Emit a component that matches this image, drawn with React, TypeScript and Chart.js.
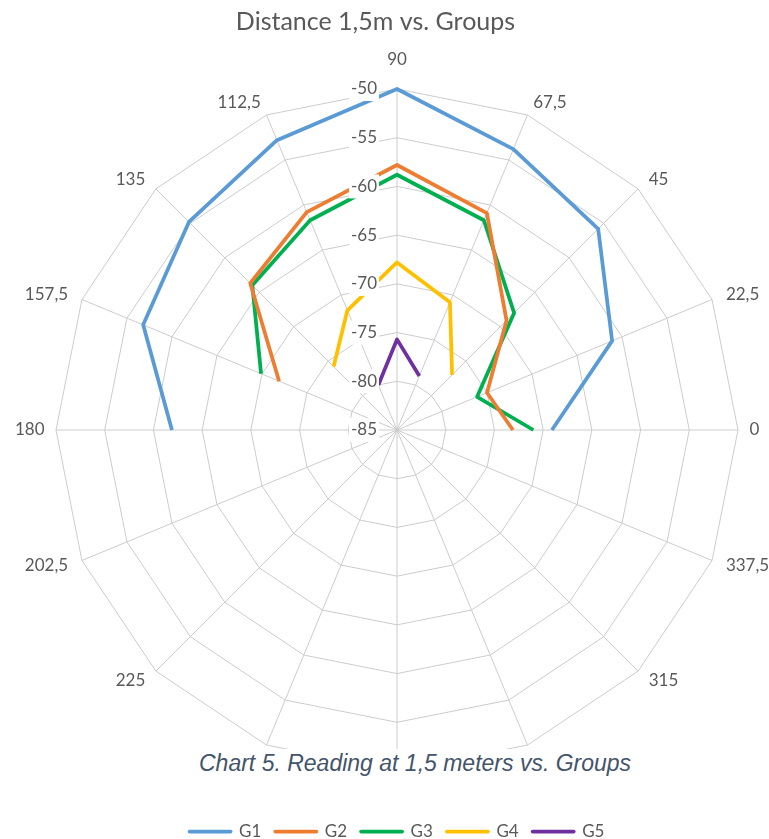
import { useEffect, useRef } from 'react';
import { Chart, registerables } from 'chart.js';

Chart.register(...registerables);

const chartTitle = 'Distance 1,5m vs. Groups';
const captionText = 'Chart 5. Reading at 1,5 meters vs. Groups';

const angleLabels = ['90', '67,5', '45', '22,5', '0', '337,5', '315', '292,5', '270', '247,5', '225', '202,5', '180', '157,5', '135', '112,5'];
const radialTicks = [-85, -80, -75, -70, -65, -60, -55, -50];

const seriesNames = ['G1', 'G2', 'G3', 'G4', 'G5'];
const seriesColors = ['#5B9BD5', '#ED7D31', '#00B050', '#FFC000', '#7030A0'];

const g1 = [-50, -53.8, -55.8, -61.1, -69.1, null, null, null, null, null, null, null, -61.9, -56.8, -54.8, -52.8];
const g2 = [-57.8, -60.9, -69.1, -75.0, -73.1, null, null, null, null, null, null, null, null, -71.9, -63.7, -60.8];
const g3 = [-58.8, -61.7, -68.0, -76.1, -71.0, null, null, null, null, null, null, null, null, -69.9, -64.0, -61.7];
const g4 = [-67.8, -70.8, -77.0, null, null, null, null, null, null, null, null, null, null, null, -75.8, -71.7];
const g5 = [-75.7, -79.0, null, null, null, null, null, null, null, null, null, null, null, null, null, -80.0];

const seriesValues = [g1, g2, g3, g4, g5];

const TEXT_COLOR = '#595959';
const GRID_COLOR = '#cccccc';

const excelLabels = {
  id: 'excelLabels',
  afterLayout(chart: any) {
    const t = chart.titleBlock;
    if (t) t.right = t.right - 43;
  },
  afterDatasetsDraw(chart: any) {
    const s = chart.scales.r;
    const ctx = chart.ctx as CanvasRenderingContext2D;
    ctx.save();
    ctx.font = '17px Lato';
    ctx.textBaseline = 'middle';
    ctx.textAlign = 'right';
    for (const t of s.ticks) {
      const y = s.yCenter - s.getDistanceFromCenterForValue(t.value);
      const x = s.xCenter - 20;
      const text = String(t.value);
      const w = ctx.measureText(text).width;
      ctx.fillStyle = '#ffffff';
      ctx.fillRect(x - w - 2, y - 12, w + 4, 24);
      ctx.fillStyle = TEXT_COLOR;
      ctx.fillText(text, x, y);
    }
    const labels = chart.data.labels as string[];
    ctx.fillStyle = TEXT_COLOR;
    labels.forEach((lab, i) => {
      const th = s.getIndexAngle(i);
      const sn = Math.sin(th);
      const cs = Math.cos(th);
      const v = s.getPointPosition(i, s.drawingArea);
      let x: number;
      let y: number;
      if (Math.abs(sn) < 0.01) {
        ctx.textAlign = 'center';
        x = v.x;
        y = v.y - cs * 29;
      } else if (Math.abs(cs) < 0.01) {
        ctx.textAlign = sn > 0 ? 'left' : 'right';
        x = v.x + sn * 11.5;
        y = v.y;
      } else {
        ctx.textAlign = sn > 0 ? 'left' : 'right';
        x = v.x + sn * 15;
        y = v.y - cs * 13;
      }
      ctx.fillText(lab, x, y);
    });
    ctx.restore();
  },
};

export default function App() {
  const ref = useRef<HTMLCanvasElement | null>(null);

  useEffect(() => {
    if (!ref.current) return;
    Chart.defaults.font.family = 'Lato';
    const chart = new Chart(ref.current, {
      type: 'radar',
      data: {
        labels: angleLabels,
        datasets: seriesNames.map((name, i) => ({
          label: name,
          data: seriesValues[i],
          borderColor: seriesColors[i],
          backgroundColor: seriesColors[i],
          borderWidth: 3.75,
          fill: false,
          pointRadius: 0,
          pointHoverRadius: 0,
          pointStyle: 'line',
          spanGaps: false,
          tension: 0,
          borderJoinStyle: 'round',
          borderCapStyle: 'butt',
        })) as any,
      },
      options: {
        responsive: false,
        animation: false,
        events: [],
        layout: { padding: { left: 56, right: 31, top: 0, bottom: 0 } },
        scales: {
          r: {
            min: -85,
            max: -50,
            startAngle: 0,
            afterBuildTicks: (scale: any) => {
              scale.ticks = radialTicks.map((value) => ({ value }));
            },
            ticks: { display: false },
            grid: { color: GRID_COLOR, lineWidth: 1 },
            angleLines: { color: GRID_COLOR, lineWidth: 1 },
            pointLabels: { display: false },
          } as any,
        },
        plugins: {
          tooltip: { enabled: false },
          title: {
            display: true,
            text: chartTitle,
            color: TEXT_COLOR,
            font: { family: 'Lato', size: 25, weight: 'normal' },
            padding: { top: 7, bottom: 14 },
          },
          legend: {
            position: 'bottom',
            maxHeight: 30,
            labels: {
              usePointStyle: true,
              pointStyleWidth: 41,
              padding: 14,
              color: TEXT_COLOR,
              font: { family: 'Lato', size: 17 },
              generateLabels: (c: any) =>
                Chart.defaults.plugins.legend.labels
                  .generateLabels(c)
                  .map((l: any) => ({ ...l, lineCap: 'round' })),
            },
          },
        },
      } as any,
      plugins: [excelLabels],
    });
    return () => chart.destroy();
  }, []);

  return (
    <div style={{ position: 'absolute', left: 0, top: 0, width: 769, height: 839, background: '#ffffff', overflow: 'hidden' }}>
      <canvas ref={ref} width={769} height={839} style={{ display: 'block' }} />
      <div
        style={{
          position: 'absolute',
          left: 0,
          top: 749,
          width: 769,
          height: 56,
          background: '#ffffff',
          fontFamily: '"Liberation Sans", Arial, sans-serif',
          fontStyle: 'italic',
          fontSize: 23,
          lineHeight: '28px',
          color: '#44546A',
          paddingLeft: 199,
          boxSizing: 'border-box',
          whiteSpace: 'nowrap',
        }}
      >
        {captionText}
      </div>
    </div>
  );
}
